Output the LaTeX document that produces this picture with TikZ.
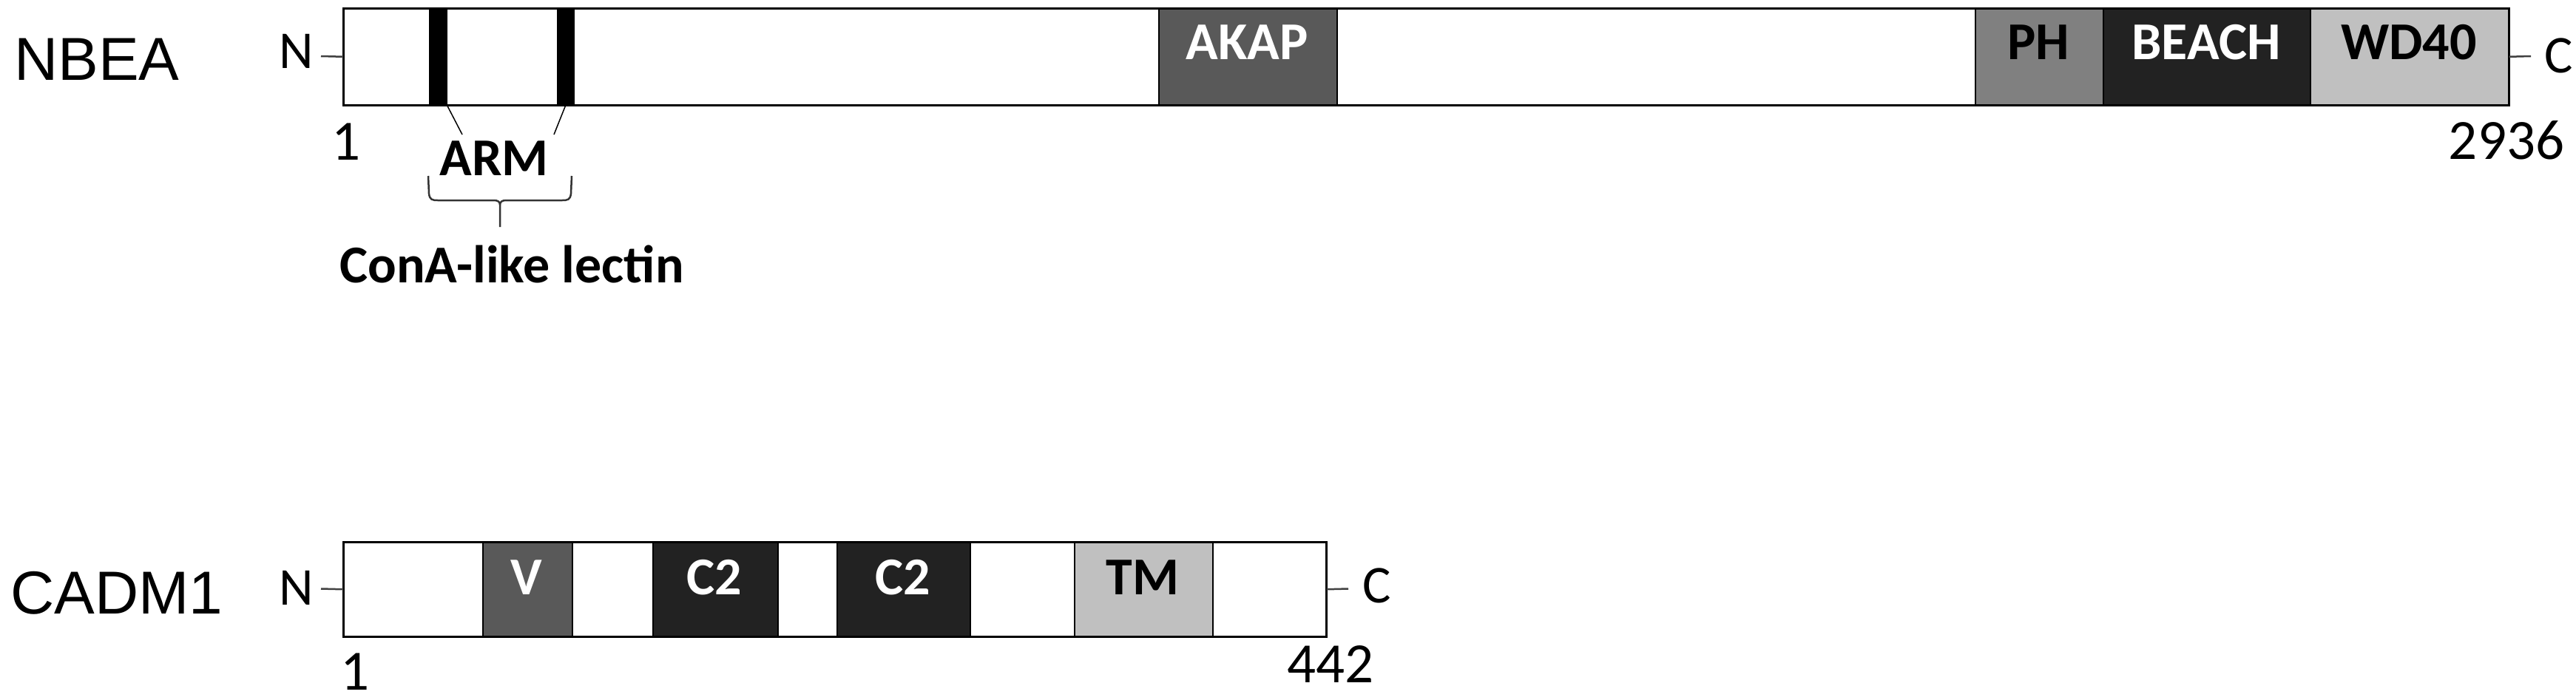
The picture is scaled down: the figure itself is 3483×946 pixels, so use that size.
\documentclass[tikz,border=0pt]{standalone}
\usepackage{fontspec}
\setmainfont{Carlito}
\newfontfamily\arialfont{Liberation Sans}
\definecolor{dgray}{HTML}{595959}
\definecolor{mgray}{HTML}{808080}
\definecolor{lgray}{HTML}{C0C0C0}
\definecolor{vdark}{HTML}{222222}
\begin{document}
\begin{tikzpicture}[x=1pt,y=-1pt,
  lbl/.style={font=\fontsize{72}{80}\selectfont, anchor=base, inner sep=0pt},
  numl/.style={font=\fontsize{77}{84}\selectfont, anchor=base, inner sep=0pt},
  blbl/.style={font=\fontsize{72}{80}\selectfont\bfseries, anchor=base, inner sep=0pt},
  prot/.style={font=\arialfont\fontsize{82}{90}\selectfont, anchor=base west, inner sep=0pt},
  dom/.style={draw=black, line width=1.5pt, rectangle, inner sep=0pt, anchor=north west},
  outline/.style={draw=black, line width=3pt},
  term/.style={draw=black!75, line width=2.5pt},
  thinln/.style={draw=black, line width=1.5pt},
  bracel/.style={draw=black!80, line width=2.5pt, line join=round}
]
\useasboundingbox (0,0) rectangle (3483,946);

% ---------------- NBEA ----------------
\node[prot] (nbealbl) at (19,108) {NBEA};
\node[dom, fill=white, minimum width=2927pt, minimum height=130pt] (nbea) at (464,11) {};
\node[dom, fill=black, minimum width=23pt, minimum height=130pt] (arm1) at (580,11) {};
\node[dom, fill=black, minimum width=22pt, minimum height=130pt] (arm2) at (753,11) {};
\node[dom, fill=dgray, minimum width=241pt, minimum height=130pt] (akap) at (1566,11) {};
\node[dom, fill=mgray, minimum width=173pt, minimum height=130pt] (ph) at (2670,11) {};
\node[dom, fill=vdark, minimum width=280pt, minimum height=130pt] (beach) at (2843,11) {};
\node[dom, fill=lgray, minimum width=268pt, minimum height=130pt] (wd) at (3123,11) {};
\draw[outline] (nbea.north west) rectangle (nbea.south east);

\node[blbl, text=white] (akapl) at (1686,80) {AKAP};
\node[blbl, text=black] (phl) at (2756,80) {PH};
\node[blbl, text=white] (beachl) at (2983,80) {BEACH};
\node[blbl, text=black] (wdl) at (3257,80) {WD40};

\node[lbl] (nN) at (401,92) {N};
\coordinate (nNd) at (434,76);
\draw[term] (nNd) -- (nbea.west);
\node[lbl] (nC) at (3460,98) {C};
\coordinate (nCd) at (3422,76);
\draw[term] (nbea.east) -- (nCd);

\node[numl] (n1) at (468,216) {1};
\node[numl] (n2936) at (3389,215) {2936};

\node[blbl] (arml) at (668,237) {ARM};
\coordinate (armA) at (625,182);
\coordinate (armB) at (749,182);
\draw[thinln] (arm1.south east) -- (armA);
\draw[thinln] (arm2.south) -- (armB);

\coordinate (brL) at (579,238);
\coordinate (brR) at (773,238);
\coordinate (brTip) at (676,307);
\draw[bracel] (brL) -- (580,262) .. controls (581,270) and (584,271) .. (592,271)
  -- (668,271) .. controls (673,271) and (676,273) .. (676,277) -- (brTip);
\draw[bracel] (brR) -- (772,262) .. controls (771,270) and (768,271) .. (760,271)
  -- (684,271) .. controls (679,271) and (676,273) .. (676,277);
\node[blbl] (cona) at (692,382) {ConA-like lectin};

% ---------------- CADM1 ----------------
\node[prot] (cadmlbl) at (14,830) {CADM1};
\node[dom, fill=white, minimum width=1328pt, minimum height=127pt] (cadm) at (464,733) {};
\node[dom, fill=dgray, minimum width=121pt, minimum height=127pt] (vd) at (652,733) {};
\node[dom, fill=vdark, minimum width=169pt, minimum height=127pt] (c2a) at (882,733) {};
\node[dom, fill=vdark, minimum width=180pt, minimum height=127pt] (c2b) at (1131,733) {};
\node[dom, fill=lgray, minimum width=187pt, minimum height=127pt] (tm) at (1452,733) {};
\draw[outline] (cadm.north west) rectangle (cadm.south east);

\node[blbl, text=white] (vl) at (712,804) {V};
\node[blbl, text=white] (c2al) at (966,804) {C2};
\node[blbl, text=white] (c2bl) at (1221,804) {C2};
\node[blbl, text=black] (tml) at (1545,804) {TM};

\node[lbl] (cN) at (401,818) {N};
\coordinate (cNd) at (434,796.5);
\draw[term] (cNd) -- (cadm.west);
\node[lbl] (cC) at (1862,815) {C};
\coordinate (cCd) at (1823,796.5);
\draw[term] (cadm.east) -- (cCd);

\node[numl] (c1) at (480,933) {1};
\node[numl] (c442) at (1799,923) {442};
\end{tikzpicture}
\end{document}
